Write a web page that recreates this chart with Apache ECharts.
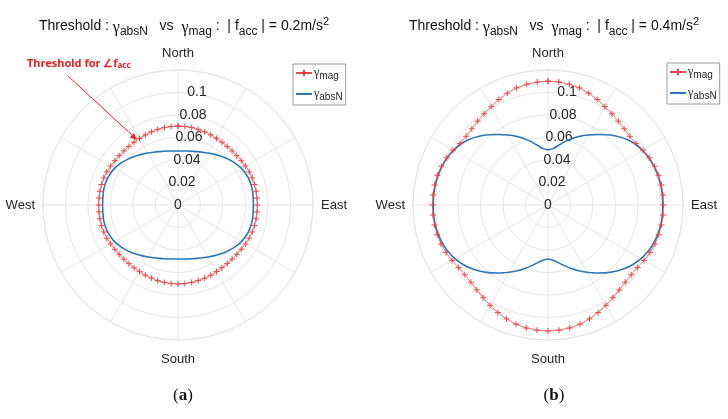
<!DOCTYPE html>
<html><head><meta charset="utf-8">
<script src="https://cdn.jsdelivr.net/npm/echarts@6/dist/echarts.min.js"></script>
<style>html,body{margin:0;padding:0;background:#fff}#c{width:728px;height:419px}</style>
</head><body><div id="c"></div>
<script>
// Headings (degrees, clockwise from North)
const headings = [0,5,10,15,20,25,30,35,40,45,50,55,60,65,70,75,80,85,90,95,100,105,110,115,120,125,130,135,140,145,150,155,160,165,170,175,180,185,190,195,200,205,210,215,220,225,230,235,240,245,250,255,260,265,270,275,280,285,290,295,300,305,310,315,320,325,330,335,340,345,350,355,360];
const compassLabels = {0:'{n|North}',90:'East',180:'{s|South}',270:'West'};
const ringTicks = [0,0.02,0.04,0.06,0.08,0.1];
const titleA = '0.2';
const titleB = '0.4';

// (a) |f_acc| = 0.2 m/s^2
const gammaMagA = [0.0702,0.0701,0.0699,0.0696,0.0692,0.0688,0.0684,0.0681,0.0680,0.0680,0.0682,0.0686,0.0692,0.0698,0.0702,0.0704,0.0705,0.0705,0.0705,0.0705,0.0705,0.0704,0.0702,0.0698,0.0692,0.0686,0.0682,0.0680,0.0680,0.0681,0.0684,0.0688,0.0692,0.0696,0.0699,0.0701,0.0702,0.0701,0.0699,0.0696,0.0692,0.0688,0.0684,0.0681,0.0680,0.0680,0.0682,0.0686,0.0692,0.0698,0.0702,0.0704,0.0705,0.0705,0.0705,0.0705,0.0705,0.0704,0.0702,0.0698,0.0692,0.0686,0.0682,0.0680,0.0680,0.0681,0.0684,0.0688,0.0692,0.0696,0.0699,0.0701,0.0702];
const gammaAbsNA = [0.0480,0.0482,0.0487,0.0494,0.0505,0.0518,0.0534,0.0552,0.0572,0.0593,0.0614,0.0634,0.0651,0.0663,0.0671,0.0674,0.0674,0.0671,0.0670,0.0671,0.0674,0.0674,0.0671,0.0663,0.0651,0.0634,0.0614,0.0593,0.0572,0.0552,0.0534,0.0518,0.0505,0.0494,0.0487,0.0482,0.0480,0.0482,0.0487,0.0494,0.0505,0.0518,0.0534,0.0552,0.0572,0.0593,0.0614,0.0634,0.0651,0.0663,0.0671,0.0674,0.0674,0.0671,0.0670,0.0671,0.0674,0.0674,0.0671,0.0663,0.0651,0.0634,0.0614,0.0593,0.0572,0.0552,0.0534,0.0518,0.0505,0.0494,0.0487,0.0482,0.0480];

// (b) |f_acc| = 0.4 m/s^2
const gammaMagB = [0.1100,0.1097,0.1090,0.1078,0.1058,0.1035,0.1010,0.0990,0.0972,0.0958,0.0950,0.0955,0.0975,0.0993,0.1008,0.1018,0.1024,0.1026,0.1027,0.1027,0.1025,0.1020,0.1012,0.1000,0.0985,0.0970,0.0965,0.0970,0.0985,0.1005,0.1030,0.1055,0.1078,0.1097,0.1110,0.1117,0.1120,0.1117,0.1110,0.1097,0.1078,0.1055,0.1030,0.1005,0.0985,0.0970,0.0965,0.0970,0.0985,0.1000,0.1012,0.1020,0.1025,0.1027,0.1027,0.1026,0.1024,0.1018,0.1008,0.0993,0.0975,0.0955,0.0950,0.0958,0.0972,0.0990,0.1010,0.1035,0.1058,0.1078,0.1090,0.1097,0.1100];
const gammaAbsNB = [0.0490,0.0503,0.0538,0.0583,0.0630,0.0675,0.0718,0.0765,0.0815,0.0865,0.0910,0.0945,0.0970,0.0990,0.1003,0.1012,0.1017,0.1020,0.1020,0.1020,0.1017,0.1010,0.0998,0.0980,0.0955,0.0922,0.0882,0.0837,0.0788,0.0738,0.0690,0.0645,0.0600,0.0558,0.0520,0.0493,0.0480,0.0493,0.0520,0.0558,0.0600,0.0645,0.0690,0.0738,0.0788,0.0837,0.0882,0.0922,0.0955,0.0980,0.0998,0.1010,0.1017,0.1020,0.1020,0.1020,0.1017,0.1012,0.1003,0.0990,0.0970,0.0945,0.0910,0.0865,0.0815,0.0765,0.0718,0.0675,0.0630,0.0583,0.0538,0.0503,0.0490];

const RED = '#ef4545', BLUE = '#2878b8', GRID = '#e6e6e6', TXT = '#262626';
const FONT = '"Liberation Sans", Arial, sans-serif';
const plus = 'path://M0,5L10,5M5,0L5,10';

function pairs(vals){ return vals.map((v,i)=>[v, headings[i]]); }

// horizontal nudges of ring labels (label slides right as the ring grows)
const ringRich = {};
const ringPad = [[0,18,0,0],[0,10,0,0],[0,0,0,0],[0,0,0,4],[0,0,0,12],[0,0,0,20]];
ringTicks.forEach((t,i)=>{ ringRich['t'+i] = {fontSize:14, fontFamily:FONT, color:TXT, padding:ringPad[i]}; });

function angleAxis(idx){
  return {polarIndex: idx, type:'value', min:0, max:360, interval:30, startAngle:90, clockwise:true,
    axisLine:{show:true, lineStyle:{color:GRID, width:1}}, axisTick:{show:false},
    splitLine:{show:true, lineStyle:{color:GRID, width:1}},
    axisLabel:{show:true, margin:8, fontSize:13, fontFamily:FONT, color:TXT,
      rich:{n:{fontSize:13, fontFamily:FONT, color:TXT, padding:[0,0,2,0]},
            s:{fontSize:13, fontFamily:FONT, color:TXT, padding:[5,0,0,0]}},
      formatter: v => compassLabels[v] || ''}};
}
function radiusAxis(idx){
  return {polarIndex: idx, type:'value', min:0, max:0.12, interval:0.02,
    axisLine:{show:false}, axisTick:{show:false},
    splitLine:{show:true, lineStyle:{color:GRID, width:1}},
    axisLabel:{show:true, margin:-9, align:'center', verticalAlign:'middle',
      fontSize:14, fontFamily:FONT, color:TXT, rich:ringRich,
      formatter: v => { const r = Math.round(v*100)/100; const i = ringTicks.indexOf(r);
        return i < 0 ? '' : '{t' + i + '|' + String(r) + '}'; }}};
}
function titleText(val){
  return 'Threshold : {g|γ}{sub|absN}   vs  {g|γ}{sub|mag} :  | f{sub|acc} | = ' + val + 'm/s{sup|2}';
}
const titleRich = {
  g:{fontFamily:'"Liberation Serif", serif', fontSize:16, color:'#111', padding:[3,0,0,0]},
  sub:{fontSize:12, fontFamily:FONT, color:'#111', padding:[11,0,0,0]},
  sup:{fontSize:11, fontFamily:FONT, color:'#111', padding:[0,0,10,0]}
};
function magSeries(idx, vals){
  return {name:'mag', type:'line', coordinateSystem:'polar', polarIndex:idx, data:pairs(vals),
    symbol:plus, symbolSize:6, showSymbol:true,
    itemStyle:{color:RED, borderColor:RED, borderWidth:1},
    lineStyle:{color:RED, width:0.8}, silent:true, animation:false, z:3};
}
function absSeries(idx, vals){
  return {name:'absN', type:'line', coordinateSystem:'polar', polarIndex:idx, data:pairs(vals),
    symbol:'none', smooth:0.2, lineStyle:{color:BLUE, width:1.6}, itemStyle:{color:BLUE},
    silent:true, animation:false, z:2};
}
function legend(left, top){
  return {orient:'vertical', left:left, top:top, itemWidth:16, itemHeight:8, itemGap:7,
    padding:[3,3,3,2], borderColor:'#9a9a9a', borderWidth:1, backgroundColor:'#fff',
    data:[{name:'mag'}, {name:'absN', itemStyle:{opacity:0}}], selectedMode:false,
    formatter: n => '{g|γ}{s|' + n + '}',
    textStyle:{color:TXT, padding:[0,0,0,-3], rich:{g:{fontFamily:'"Liberation Serif", serif', fontSize:12, color:TXT},
      s:{fontSize:10, fontFamily:FONT, color:TXT, padding:[6,0,0,0]}}}};
}

const chart = echarts.init(document.getElementById('c'), null, {renderer:'canvas'});
chart.setOption({
  animation:false,
  backgroundColor:'#fff',
  title:[
    {text:titleText(titleA), left:179, top:10, textAlign:'center',
      textStyle:{fontSize:14, fontWeight:'normal', fontFamily:FONT, color:'#111', rich:titleRich}},
    {text:titleText(titleB), left:549, top:10, textAlign:'center',
      textStyle:{fontSize:14, fontWeight:'normal', fontFamily:FONT, color:'#111', rich:titleRich}},
    {text:'({b|a})', left:178, top:382, textAlign:'center',
      textStyle:{fontSize:17, fontWeight:'normal', fontFamily:'"Liberation Serif", serif', color:'#111',
        rich:{b:{fontSize:17, fontWeight:'bold', fontFamily:'"Liberation Serif", serif', color:'#111'}}}},
    {text:'({b|b})', left:549, top:382, textAlign:'center',
      textStyle:{fontSize:17, fontWeight:'normal', fontFamily:'"Liberation Serif", serif', color:'#111',
        rich:{b:{fontSize:17, fontWeight:'bold', fontFamily:'"Liberation Serif", serif', color:'#111'}}}}
  ],
  legend:[legend(293,64), legend(667,63)],
  polar:[{center:[178,205], radius:135},{center:[548,205], radius:135}],
  angleAxis:[angleAxis(0), angleAxis(1)],
  radiusAxis:[radiusAxis(0), radiusAxis(1)],
  series:[magSeries(0,gammaMagA), absSeries(0,gammaAbsNA), magSeries(1,gammaMagB), absSeries(1,gammaAbsNB)],
  graphic:[
    {type:'text', left:27, top:58, z:10, style:{text:'Threshold for ∠f{s|acc}', fill:'#e8201f',
      font:'bold 11px "Noto Sans", sans-serif',
      rich:{s:{fontSize:8, fontWeight:'bold', fontFamily:'"Noto Sans", sans-serif', fill:'#e8201f', padding:[4,0,0,0]}}}},
    {type:'line', z:10, shape:{x1:68, y1:76, x2:133, y2:136}, style:{stroke:'#e8201f', lineWidth:1}},
    {type:'polygon', z:10, shape:{points:[[137,140],[129.9,137.4],[133.9,133.0]]}, style:{fill:'#e8201f'}}
  ]
});
</script></body></html>
